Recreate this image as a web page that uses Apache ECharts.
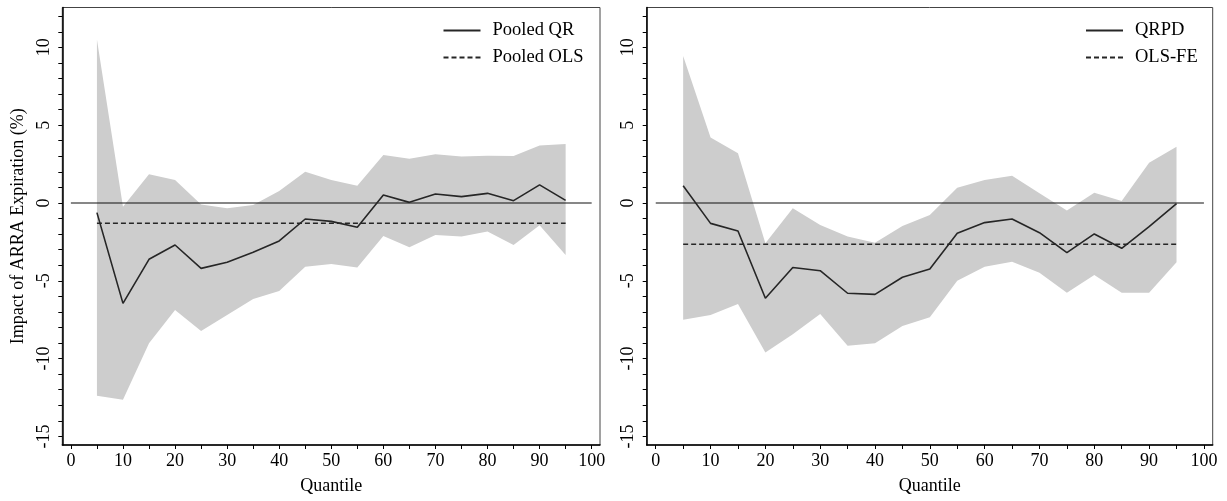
<!DOCTYPE html>
<html><head><meta charset="utf-8">
<script src="https://cdn.jsdelivr.net/npm/echarts@6/dist/echarts.min.js"></script>
<style>html,body{margin:0;padding:0;background:#fff}#c{width:1227px;height:501px}</style>
</head><body><div id="c"></div>
<script>
const quantiles = [5,10,15,20,25,30,35,40,45,50,55,60,65,70,75,80,85,90,95];

const pooledQR      = [-0.62,-6.45,-3.62,-2.70,-4.20,-3.81,-3.17,-2.44,-1.03,-1.18,-1.56,0.51,0.04,0.58,0.41,0.62,0.15,1.16,0.17];
const pooledQRUpper = [10.51,-0.24,1.84,1.48,-0.09,-0.34,-0.13,0.77,2.01,1.48,1.11,3.08,2.85,3.13,2.98,3.04,3.02,3.70,3.79];
const pooledQRLower = [-12.38,-12.65,-9.01,-6.87,-8.22,-7.19,-6.17,-5.65,-4.09,-3.92,-4.15,-2.12,-2.85,-2.06,-2.16,-1.84,-2.70,-1.43,-3.34];
const pooledOLS = -1.3;

const qrpd      = [1.11,-1.31,-1.80,-6.12,-4.15,-4.35,-5.80,-5.87,-4.77,-4.24,-1.95,-1.26,-1.03,-1.91,-3.19,-1.99,-2.91,-1.52,-0.04];
const qrpdUpper = [9.44,4.20,3.19,-2.59,-0.34,-1.41,-2.16,-2.55,-1.48,-0.77,0.98,1.48,1.75,0.62,-0.49,0.66,0.13,2.59,3.62];
const qrpdLower = [-7.51,-7.19,-6.49,-9.61,-8.43,-7.13,-9.18,-9.01,-7.90,-7.34,-4.99,-4.09,-3.77,-4.48,-5.76,-4.62,-5.76,-5.76,-3.81];
const olsFE = -2.65;

const xTickValues  = [0,5,10,15,20,25,30,35,40,45,50,55,60,65,70,75,80,85,90,95,100];
const xLabelValues = [0,10,20,30,40,50,60,70,80,90,100];
const yTickValues  = [-15,-14,-13,-12,-11,-10,-9,-8,-7,-6,-5,-4,-3,-2,-1,0,1,2,3,4,5,6,7,8,9,10,11,12];
const yLabelValues = [-15,-10,-5,0,5,10];

const FONT = 'Liberation Serif';
const LINE = '#262626';
const BAND = '#cdcdcd';

function pts(xs, ys) { return xs.map((x, i) => [x, ys[i]]); }

function xAxis(gi) {
  return {
    type: 'value', gridIndex: gi, min: -1.65, max: 101.6,
    name: 'Quantile', nameLocation: 'middle', nameGap: 32,
    nameTextStyle: {fontFamily: FONT, fontSize: 18, color: '#000'},
    axisLine: {show: true, onZero: false, lineStyle: {color: '#000', width: 1.5}},
    axisTick: {show: true, length: 4, customValues: xTickValues, lineStyle: {color: '#000'}},
    axisLabel: {customValues: xLabelValues, fontFamily: FONT, fontSize: 18, color: '#000', margin: 7},
    splitLine: {show: false}
  };
}
function yAxis(gi, name) {
  return {
    type: 'value', gridIndex: gi, min: -15.55, max: 12.56,
    name: name, nameLocation: 'middle', nameGap: 35,
    nameTextStyle: {fontFamily: FONT, fontSize: 18, color: '#000'},
    axisLine: {show: true, onZero: false, lineStyle: {color: '#000', width: 1.5}},
    axisTick: {show: true, length: 4, customValues: yTickValues, lineStyle: {color: '#000'}},
    axisLabel: {customValues: yLabelValues, rotate: 90, fontFamily: FONT, fontSize: 18, color: '#000', margin: 9},
    splitLine: {show: false}
  };
}
function panel(gi, key, est, up, lo, ols, estName, olsName) {
  const base = {xAxisIndex: gi, yAxisIndex: gi, silent: true, animation: false};
  return [
    Object.assign({}, base, {
      type: 'custom', name: key + 'band',
      data: quantiles.map((q, i) => [q, lo[i], up[i]]),
      encode: {x: 0, y: [1, 2]},
      renderItem: function (params, api) {
        if (params.dataIndex !== 0) return null;
        const top = quantiles.map((q, i) => api.coord([q, up[i]]));
        const bot = quantiles.map((q, i) => api.coord([q, lo[i]])).reverse();
        return {type: 'polygon', shape: {points: top.concat(bot)}, style: {fill: BAND, stroke: null}};
      },
      z: 1
    }),
    Object.assign({}, base, {type: 'line', name: key + 'zero', data: [[0, 0], [100, 0]], showSymbol: false, symbol: 'none',
      lineStyle: {color: '#111', width: 1.2}, itemStyle: {color: '#111'}, z: 2}),
    Object.assign({}, base, {type: 'line', name: olsName, showSymbol: false, symbol: 'none',
      data: [[quantiles[0], ols], [quantiles[quantiles.length - 1], ols]],
      lineStyle: {color: LINE, width: 1.6, type: [5, 3]}, itemStyle: {color: LINE}, z: 3}),
    Object.assign({}, base, {type: 'line', name: estName, showSymbol: false, symbol: 'none', data: pts(quantiles, est),
      lineStyle: {color: LINE, width: 1.6}, itemStyle: {color: LINE}, z: 4})
  ];
}
function legend(left, names) {
  return {
    left: left, top: 16, orient: 'vertical', data: names, selectedMode: false,
    itemWidth: 37, itemHeight: 14, itemGap: 8,
    itemStyle: {opacity: 0, borderWidth: 0},
    textStyle: {fontFamily: FONT, fontSize: 18.5, color: '#000', padding: [0, 0, 0, 7]}
  };
}

const chart = echarts.init(document.getElementById('c'), null, {renderer: 'canvas'});
chart.setOption({
  animation: false,
  backgroundColor: '#fff',
  grid: [
    {left: 62.3, top: 7.5, width: 537.7, height: 437.5, show: true, borderColor: '#444', borderWidth: 1},
    {left: 646.7, top: 7.5, width: 566, height: 437.5, show: true, borderColor: '#444', borderWidth: 1}
  ],
  xAxis: [xAxis(0), xAxis(1)],
  yAxis: [yAxis(0, 'Impact of ARRA Expiration (%)'), yAxis(1, '')],
  legend: [legend(437.5, ['Pooled QR', 'Pooled OLS']), legend(1080, ['QRPD', 'OLS-FE'])],
  series: [].concat(
    panel(0, 'p', pooledQR, pooledQRUpper, pooledQRLower, pooledOLS, 'Pooled QR', 'Pooled OLS'),
    panel(1, 'q', qrpd, qrpdUpper, qrpdLower, olsFE, 'QRPD', 'OLS-FE')
  )
});
</script></body></html>
